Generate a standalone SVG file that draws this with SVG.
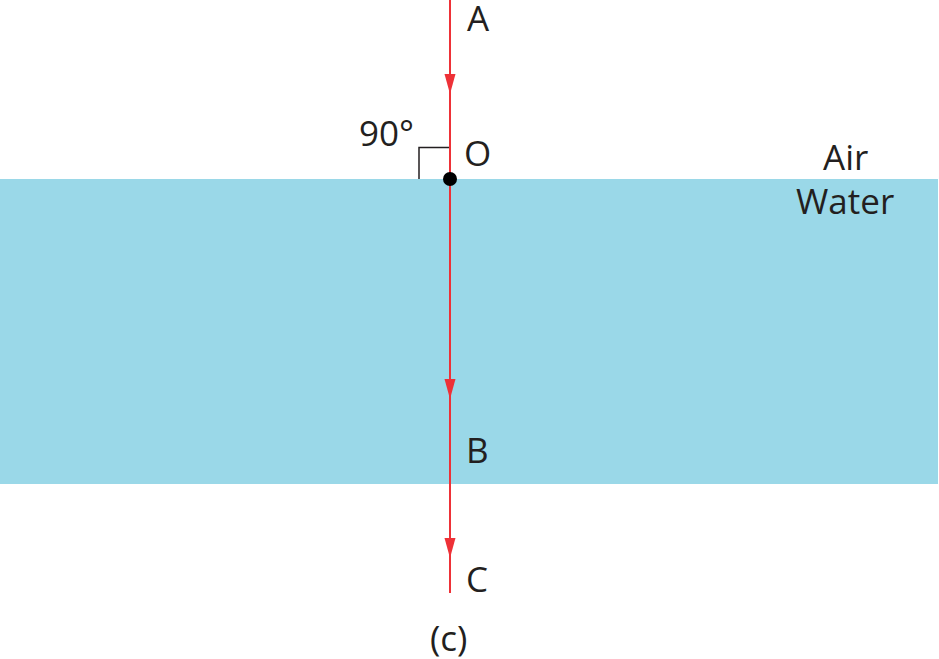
<svg xmlns="http://www.w3.org/2000/svg" width="939" height="659" viewBox="0 0 939 659">
<style>
.t{font-family:"Open Sans",sans-serif;font-size:35px;fill:#231f20}
.ray{stroke:#ee3137;stroke-width:2;fill:none}
.ah{fill:#ee3137}
</style>
<rect width="939" height="659" fill="#fff"/>
<g id="water"><rect x="0" y="179" width="938" height="305" fill="#9ad8e8"/></g>
<g id="right-angle"><path d="M419,179 V147.5 H450" fill="none" stroke="#231f20" stroke-width="1.5"/></g>
<g id="connectors">
<line class="ray" x1="450" y1="0" x2="450" y2="593"/>
<path class="ah" d="M444.5,74 L455.5,74 L450,94 Z"/>
<path class="ah" d="M444.5,379 L455.5,379 L450,399 Z"/>
<path class="ah" d="M444.5,538 L455.5,538 L450,558 Z"/>
</g>
<g id="O"><circle cx="450" cy="179" r="7" fill="#000"/><text class="t" x="464" y="166">O</text></g>
<g id="A"><text class="t" x="467" y="31">A</text></g>
<g id="B"><text class="t" x="466" y="463">B</text></g>
<g id="C"><text class="t" x="466" y="592">C</text></g>
<g id="angle"><text class="t" x="359" y="146">90°</text></g>
<g id="air"><text class="t" x="823" y="170">Air</text></g>
<g id="waterlabel"><text class="t" x="796" y="214">Water</text></g>
<g id="caption"><text class="t" x="430" y="651">(c)</text></g>
</svg>
